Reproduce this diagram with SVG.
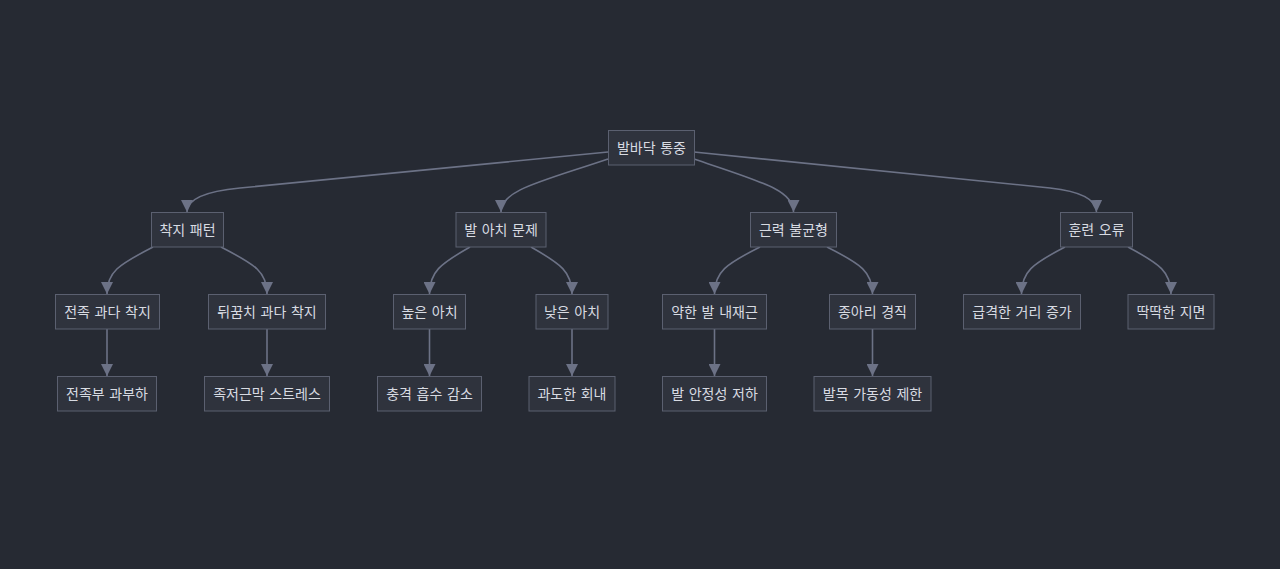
<svg xmlns="http://www.w3.org/2000/svg" width="1280" height="569" viewBox="0 0 1280 569">
<style>
.bg{fill:#262a33}
.node rect{fill:#2f333d;stroke:#5b6070;stroke-width:1}
.node text{fill:#d8dbe2;font-family:"Noto Sans CJK KR","Noto Sans",sans-serif;font-size:14px;text-anchor:middle;dominant-baseline:central;word-spacing:1.5px}
.edges path{fill:none;stroke:#6c7286;stroke-width:1.6}
</style>
<defs>
<marker id="arr" viewBox="0 0 12 12" refX="12" refY="6" markerWidth="12" markerHeight="12" markerUnits="userSpaceOnUse" orient="auto">
<path d="M0,0 L12,6 L0,12 z" fill="#6c7286"/>
</marker>
</defs>
<rect class="bg" x="0" y="0" width="1280" height="569"/>
<g class="edges">
<path marker-end="url(#arr)" d="M608,152 L240,188 Q187,193 187,212"/>
<path marker-end="url(#arr)" d="M608,159 C540,182 501,190 501,212"/>
<path marker-end="url(#arr)" d="M694,159 C762,182 793.5,190 793.5,212"/>
<path marker-end="url(#arr)" d="M694,152 L1050,188 Q1096,193 1096.5,212"/>
<path marker-end="url(#arr)" d="M153,247 C118,265 107,272 107,294"/>
<path marker-end="url(#arr)" d="M221,247 C256,265 267,272 267,294"/>
<path marker-end="url(#arr)" d="M470,247 C440,264 429.5,272 429.5,294"/>
<path marker-end="url(#arr)" d="M531,247 C561,264 572,272 572,294"/>
<path marker-end="url(#arr)" d="M760,247 C726,264 714.5,272 714.5,294"/>
<path marker-end="url(#arr)" d="M827,247 C861,264 872.5,272 872.5,294"/>
<path marker-end="url(#arr)" d="M1065,247 C1032,264 1021.5,272 1021.5,294"/>
<path marker-end="url(#arr)" d="M1128,247 C1160,264 1171,272 1171,294"/>
<path marker-end="url(#arr)" d="M107,329 L107,376"/>
<path marker-end="url(#arr)" d="M267,329 L267,376"/>
<path marker-end="url(#arr)" d="M429.5,329 L429.5,376"/>
<path marker-end="url(#arr)" d="M572,329 L572,376"/>
<path marker-end="url(#arr)" d="M714.5,329 L714.5,376"/>
<path marker-end="url(#arr)" d="M872.5,329 L872.5,376"/>
</g>
<g id="root" class="node"><rect x="608.5" y="130.5" width="86" height="34.5"/><text x="651.5" y="147">발바닥 통중</text></g>
<g id="landing" class="node"><rect x="151.5" y="212.5" width="72" height="34.5"/><text x="187.5" y="229">착지 패턴</text></g>
<g id="arch" class="node"><rect x="456" y="212.5" width="90" height="34.5"/><text x="501" y="229">발 아치 문제</text></g>
<g id="muscle" class="node"><rect x="750.5" y="212.5" width="86" height="34.5"/><text x="793.5" y="229">근력 불균형</text></g>
<g id="training" class="node"><rect x="1060.5" y="212.5" width="72" height="34.5"/><text x="1096.5" y="229">훈련 오류</text></g>
<g id="forefoot" class="node"><rect x="55.5" y="294.5" width="104" height="34.5"/><text x="107.5" y="311">전족 과다 착지</text></g>
<g id="heel" class="node"><rect x="208.5" y="294.5" width="117" height="34.5"/><text x="267" y="311">뒤꿈치 과다 착지</text></g>
<g id="higharch" class="node"><rect x="393.5" y="294.5" width="72" height="34.5"/><text x="429.5" y="311">높은 아치</text></g>
<g id="lowarch" class="node"><rect x="536" y="294.5" width="72" height="34.5"/><text x="572" y="311">낮은 아치</text></g>
<g id="weakfoot" class="node"><rect x="662.5" y="294.5" width="104" height="34.5"/><text x="714.5" y="311">약한 발 내재근</text></g>
<g id="calf" class="node"><rect x="829.5" y="294.5" width="86" height="34.5"/><text x="872.5" y="311">종아리 경직</text></g>
<g id="distance" class="node"><rect x="963.5" y="294.5" width="117" height="34.5"/><text x="1022" y="311">급격한 거리 증가</text></g>
<g id="hardground" class="node"><rect x="1128" y="294.5" width="86" height="34.5"/><text x="1171" y="311">딱딱한 지면</text></g>
<g id="overload" class="node"><rect x="57.5" y="376.5" width="99" height="34.5"/><text x="107" y="393">전족부 과부하</text></g>
<g id="fascia" class="node"><rect x="204.5" y="376.5" width="125" height="34.5"/><text x="267" y="393">족저근막 스트레스</text></g>
<g id="shock" class="node"><rect x="377.5" y="376.5" width="104" height="34.5"/><text x="429.5" y="393">충격 흡수 감소</text></g>
<g id="pronation" class="node"><rect x="529" y="376.5" width="86" height="34.5"/><text x="572" y="393">과도한 회내</text></g>
<g id="stability" class="node"><rect x="662.5" y="376.5" width="104" height="34.5"/><text x="714.5" y="393">발 안정성 저하</text></g>
<g id="ankle" class="node"><rect x="814" y="376.5" width="117" height="34.5"/><text x="872.5" y="393">발목 가동성 제한</text></g>
</svg>
